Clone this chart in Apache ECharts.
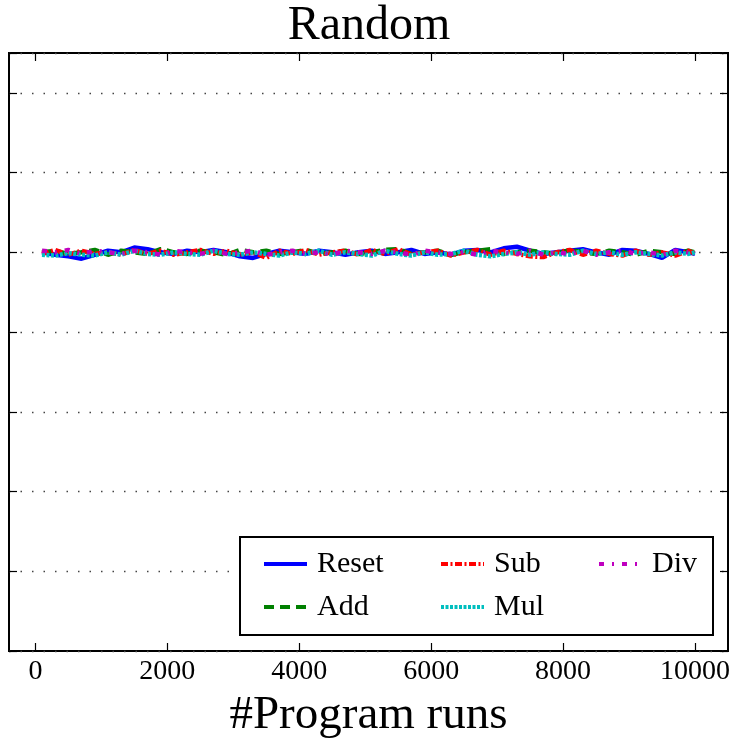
<!DOCTYPE html>
<html>
<head>
<meta charset="utf-8">
<script src="https://cdn.jsdelivr.net/npm/echarts@6/dist/echarts.min.js"></script>
<style>
html,body{margin:0;padding:0;background:#fff;}
#chart{width:738px;height:744px;}
</style>
</head>
<body>
<div id="chart"></div>
<script>
var xRuns = [100,300,500,700,900,1100,1300,1500,1700,1900,2100,2300,2500,2700,2900,3100,3300,3500,3700,3900,4100,4300,4500,4700,4900,5100,5300,5500,5700,5900,6100,6300,6500,6700,6900,7100,7300,7500,7700,7900,8100,8300,8500,8700,8900,9100,9300,9500,9700,9900,10000];
var xTicks = [0,2000,4000,6000,8000,10000];
var seriesNames = ['Reset','Add','Sub','Mul','Div'];
var reset = [5.00,4.97,4.95,4.92,4.97,5.02,5.00,5.06,5.04,5.00,4.98,5.02,5.00,5.03,5.00,4.95,4.93,4.98,5.02,5.00,4.98,5.02,5.00,4.97,5.00,5.02,4.98,5.00,5.03,4.98,5.00,4.97,5.02,5.03,5.00,5.05,5.07,5.02,4.98,5.00,5.02,5.04,5.00,4.97,5.03,5.02,4.98,4.93,5.03,5.00,4.98];
var add = [5.00,5.02,4.98,5.00,5.03,4.97,5.02,5.00,4.98,5.04,5.00,4.98,5.02,5.00,4.97,5.03,5.00,5.02,4.98,5.00,5.03,4.98,5.00,5.02,4.98,5.00,5.03,5.04,4.98,5.00,5.02,4.97,5.00,5.02,5.04,4.98,5.00,5.02,5.00,4.98,5.03,5.00,4.98,5.02,5.00,4.97,5.02,5.00,4.98,5.02,5.00];
var sub = [4.98,5.03,4.97,5.02,4.98,5.00,4.97,5.03,4.98,5.02,4.97,5.00,5.03,4.98,5.02,4.97,5.00,4.93,5.02,4.98,5.03,4.97,5.00,5.02,4.97,5.03,4.98,5.04,4.97,5.00,5.02,4.96,5.00,5.03,4.97,5.02,4.98,4.95,4.94,5.00,5.03,4.97,5.02,4.98,4.96,5.02,4.97,5.00,4.96,5.02,4.98];
var mul = [4.97,4.96,4.99,4.97,4.96,5.00,4.97,5.02,4.98,4.97,5.00,4.98,4.97,5.02,4.98,4.97,5.00,4.98,4.96,5.00,4.98,5.02,4.97,5.00,4.98,4.96,5.02,4.98,4.96,5.00,4.97,4.98,5.02,4.97,4.95,4.98,5.00,4.97,5.00,4.98,4.97,5.02,4.98,5.00,4.97,5.00,4.98,4.96,5.00,4.98,5.00];
var div = [5.02,5.00,5.03,4.98,5.02,5.00,4.98,5.02,5.00,4.97,5.02,5.00,4.98,5.02,4.98,5.00,5.02,4.97,5.00,5.02,4.98,5.00,4.97,5.02,5.00,4.98,5.02,5.00,4.97,5.02,5.00,4.98,5.00,4.97,5.02,5.00,4.98,5.02,4.97,5.00,4.98,5.02,4.97,5.00,5.02,4.98,5.00,4.97,5.02,5.00,4.98];

var seriesValues = [reset, add, sub, mul, div];
var colors = ['#0000ff','#008000','#ff0000','#00bfbf','#bf00bf'];
var dashes = ['solid',[10,6],[7,2.5,2,2.5],[3,1.5],[5,8,2,8]];
var FONT = '"Liberation Serif", "DejaVu Serif", serif';

function pairs(vals){ return xRuns.map(function(x,i){ return [x, vals[i]]; }); }

var chart = echarts.init(document.getElementById('chart'), null, {renderer:'canvas'});
var legendCommon = {
  orient: 'vertical', itemWidth: 43, itemHeight: 14, itemGap: 13, padding: 0,
  z: 20,
  itemStyle: {opacity: 0},
  lineStyle: {width: 4},
  textStyle: {fontFamily: FONT, fontSize: 30, color: '#000', lineHeight: 30, padding:[0,0,0,5]},
  selectedMode: false
};
var axisFmt = function(v){ return String(v); };
var option = {
  animation: false,
  backgroundColor: '#fff',
  title: {text: 'Random', left: 'center', top: -3,
    textStyle: {fontFamily: FONT, fontSize: 48, fontWeight: 'normal', color: '#000'}},
  grid: {left: 9, right: 10, top: 53, bottom: 93, show: true, borderColor: '#000', borderWidth: 2, containLabel: false},
  legend: [
    Object.assign({}, legendCommon, {left: 262, top: 549, data: ['Reset','Add']}),
    Object.assign({}, legendCommon, {left: 439, top: 549, data: ['Sub','Mul']}),
    Object.assign({}, legendCommon, {left: 597, top: 549, data: ['Div']})
  ],
  graphic: [{type: 'rect', z: 10, shape: {x: 240, y: 537, width: 473, height: 98},
    style: {fill: '#fff', stroke: '#000', lineWidth: 2}}],
  xAxis: [{
    type: 'value', min: -400, max: 10500, position: 'bottom',
    name: '#Program runs', nameLocation: 'middle', nameGap: 41,
    nameTextStyle: {fontFamily: FONT, fontSize: 47, color: '#000'},
    axisLine: {show: false, onZero: false},
    axisTick: {show: true, inside: true, length: 8, customValues: xTicks, lineStyle: {color: '#000', width: 1.2}},
    axisLabel: {customValues: xTicks, margin: 7, fontFamily: FONT, fontSize: 28, color: '#000', formatter: axisFmt},
    splitLine: {show: false}
  },{
    type: 'value', min: -400, max: 10500, position: 'top',
    axisLine: {show: false, onZero: false},
    axisTick: {show: true, inside: true, length: 8, customValues: xTicks, lineStyle: {color: '#000', width: 1.2}},
    axisLabel: {show: false}, splitLine: {show: false}
  }],
  yAxis: [{
    type: 'value', min: 0, max: 7.5, interval: 1, position: 'left',
    axisLine: {show: false, onZero: false},
    axisTick: {show: true, inside: true, length: 8, lineStyle: {color: '#000', width: 1.2}},
    axisLabel: {show: false},
    splitLine: {show: true, lineStyle: {color: '#444', width: 1.3, type: [1.5, 10]}}
  },{
    type: 'value', min: 0, max: 7.5, interval: 1, position: 'right',
    axisLine: {show: false, onZero: false},
    axisTick: {show: true, inside: true, length: 8, lineStyle: {color: '#000', width: 1.2}},
    axisLabel: {show: false}, splitLine: {show: false}
  }],
  series: seriesNames.map(function(n, i){
    return {
      name: n, type: 'line', xAxisIndex: 0, yAxisIndex: 0,
      data: pairs(seriesValues[i]), showSymbol: false, symbol: 'none',
      lineStyle: {color: colors[i], width: 4.5, type: dashes[i]},
      itemStyle: {color: colors[i]}, z: 2 + i
    };
  })
};
chart.setOption(option);
</script>
</body>
</html>
